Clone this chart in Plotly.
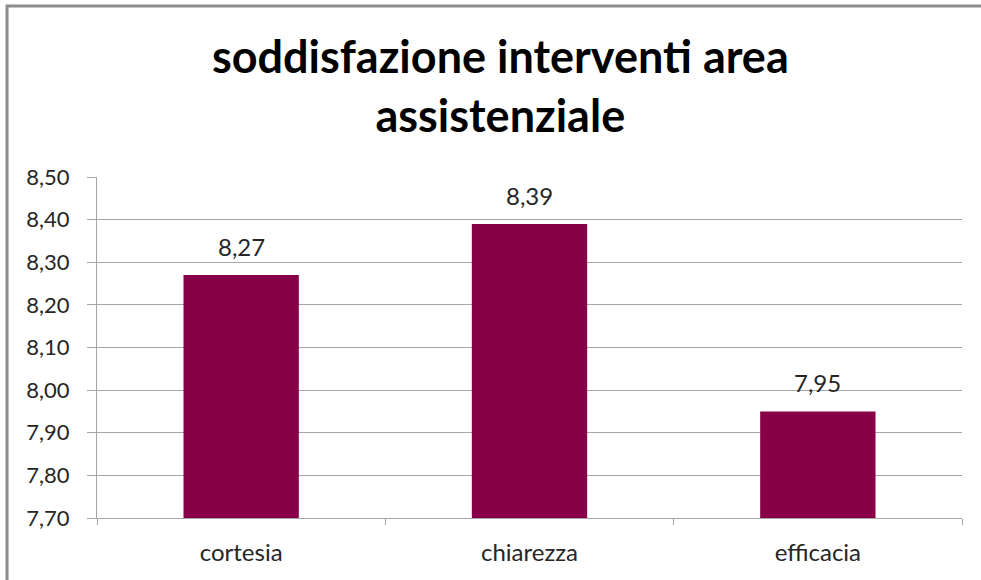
import plotly.graph_objects as go

categories = ["cortesia", "chiarezza", "efficacia"]
values = [8.27, 8.39, 7.95]

title_text = "soddisfazione interventi area<br>assistenziale"
bar_color = "#880048"
grid_color = "#A6A6A6"
font_family = "Lato, 'Open Sans', sans-serif"

fig = go.Figure()

fig.add_trace(go.Bar(
	x = categories,
	y = values,
	marker = dict(color=bar_color, line=dict(width=0)),
	hoverinfo = "x+y",
))

# value labels above the bars
for cat, val in zip(categories, values):
	fig.add_annotation(
		x = cat, y = val,
		text = f"{val:.2f}".replace(".", ","),
		showarrow = False,
		yanchor = "bottom",
		yshift = 12,
		font = dict(size=24, color="#262626", family=font_family),
	)

fig.update_layout(
	width = 981,
	height = 580,
	separators = ",.",
	paper_bgcolor = "white",
	plot_bgcolor = "white",
	bargap = 0.6,
	showlegend = False,
	margin = dict(l=97, r=19, t=177, b=62),
	font = dict(family=font_family, size=22, color="#262626"),
	title = dict(
		text = title_text,
		x = 0.51,
		xref = "container",
		xanchor = "center",
		y = 1 - 73 / 580,
		yref = "container",
		yanchor = "top",
		font = dict(size=45, color="black", family=font_family, weight="bold"),
	),
	# grey frame of the chart area (only top and left edges visible)
	shapes = [dict(
		type = "rect",
		xref = "paper", yref = "paper",
		x0 = -0.104, x1 = 1.3, y0 = -0.5, y1 = 1.5015,
		line = dict(color="#8C8C8C", width=3),
		layer = "below",
	)],
)

fig.update_yaxes(
	range = [7.7, 8.5],
	dtick = 0.1,
	tickformat = ".2f",
	showgrid = True,
	gridcolor = grid_color,
	gridwidth = 1,
	showline = True,
	linecolor = grid_color,
	linewidth = 1,
	ticks = "outside",
	ticklen = 9,
	tickcolor = grid_color,
	ticklabelstandoff = 13,
	zeroline = False,
)

fig.update_xaxes(
	showline = True,
	linecolor = grid_color,
	linewidth = 1,
	ticks = "outside",
	tickson = "boundaries",
	ticklen = 6,
	tickcolor = grid_color,
	tickfont = dict(size=24),
	ticklabelstandoff = 13,
	showgrid = False,
)

fig.write_html(
	"out.html",
	config = {"displayModeBar": False},
	post_script = "document.body.style.margin='0';",
)
